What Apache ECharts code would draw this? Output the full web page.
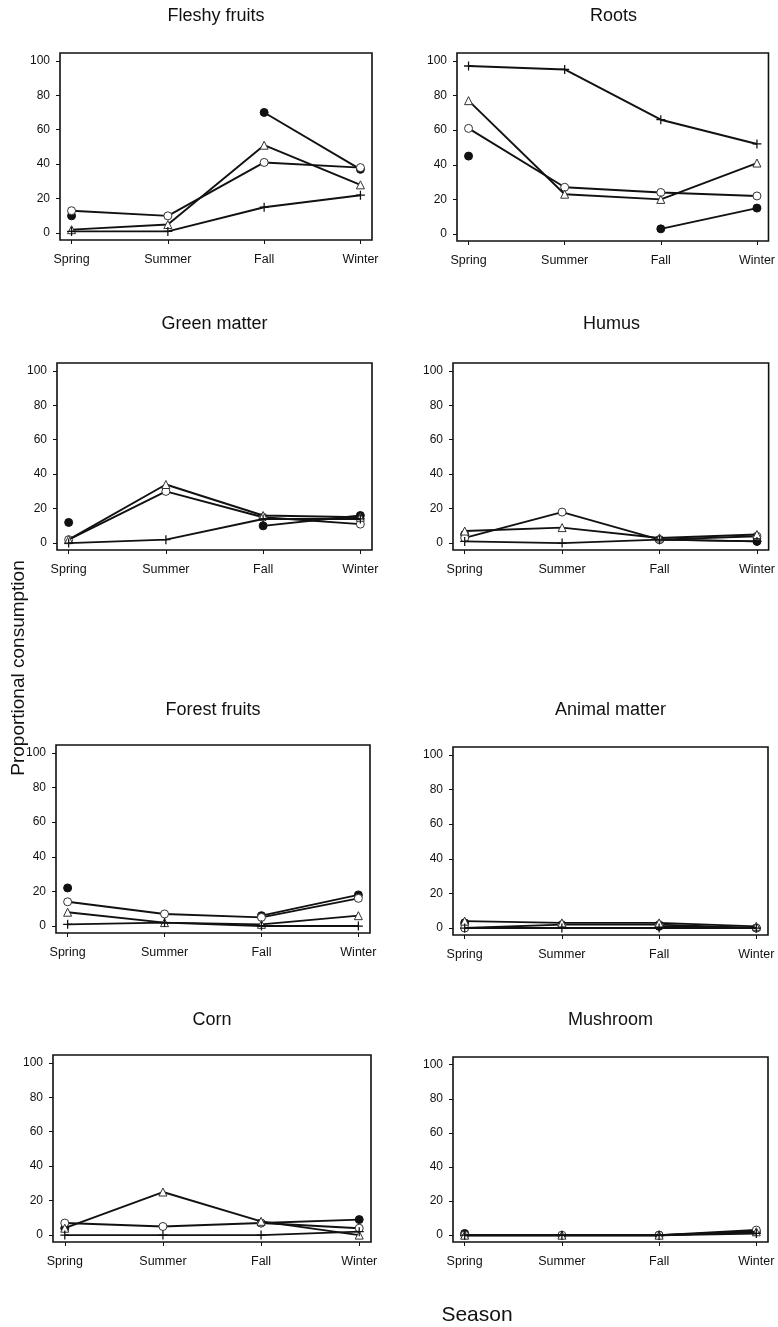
<!DOCTYPE html>
<html>
<head>
<meta charset="utf-8">
<script src="https://cdn.jsdelivr.net/npm/echarts@6/dist/echarts.min.js"></script>
<style>
html,body{margin:0;padding:0;background:#fff;}
#chart{width:778px;height:1327px;}
</style>
</head>
<body>
<div id="chart"></div>
<script>
// ---- data ----
const seasons = ['Spring', 'Summer', 'Fall', 'Winter'];
const yTicks = [0, 20, 40, 60, 80, 100];
const panelTitles = ['Fleshy fruits', 'Roots', 'Green matter', 'Humus',
                     'Forest fruits', 'Animal matter', 'Corn', 'Mushroom'];
// each panel: [filled circle, open circle, open triangle, plus]
const fleshyFruits = [[10, null, 70, 37], [13, 10, 41, 38], [2, 5, 51, 28], [1, 1, 15, 22]];
const roots        = [[45, null, 3, 15], [61, 27, 24, 22], [77, 23, 20, 41], [97, 95, 66, 52]];
const greenMatter  = [[12, null, 10, 16], [2, 30, 15, 11], [2, 34, 16, 15], [0, 2, 14, 14]];
const humus        = [[5, null, 2, 1], [3, 18, 2, 4], [7, 9, 3, 5], [1, 0, 2, 1]];
const forestFruits = [[22, null, 6, 18], [14, 7, 5, 16], [8, 2, 1, 6], [1, 2, 0, 0]];
const animalMatter = [[3, null, 1, 0], [0, 2, 2, 0], [4, 3, 3, 1], [0, 0, 0, 0]];
const corn         = [[4, null, 7, 9], [7, 5, 7, 4], [4, 25, 8, 0], [0, 0, 0, 2]];
const mushroom     = [[1, null, 0, 2], [0, 0, 0, 3], [0, 0, 0, 2], [0, 0, 0, 1]];
const panelData = [fleshyFruits, roots, greenMatter, humus, forestFruits, animalMatter, corn, mushroom];

// ---- layout / style ----
const FONT = "'Liberation Sans', Arial, sans-serif";
const INK = '#111';
const grids = [
  {left: 60,  top: 53,   width: 312, height: 187},
  {left: 457, top: 53,   width: 313, height: 188},
  {left: 57,  top: 363,  width: 315, height: 187},
  {left: 453, top: 363,  width: 317, height: 187},
  {left: 56,  top: 745,  width: 314, height: 188},
  {left: 453, top: 747,  width: 315, height: 188},
  {left: 53,  top: 1055, width: 318, height: 187},
  {left: 453, top: 1057, width: 315, height: 185}
];
const titleY = [16, 16, 324, 324, 710, 710, 1020, 1020];
const plusPath = 'path://M4.3,0 L5.7,0 L5.7,4.3 L10,4.3 L10,5.7 L5.7,5.7 L5.7,10 L4.3,10 L4.3,5.7 L0,5.7 L0,4.3 L4.3,4.3 Z';
const markerStyles = [
  {symbol: 'circle', symbolSize: 8, itemStyle: {color: INK, borderColor: INK, borderWidth: 1}},
  {symbol: 'circle', symbolSize: 8, itemStyle: {color: '#fff', borderColor: '#333', borderWidth: 1}},
  {symbol: 'triangle', symbolSize: 8, itemStyle: {color: '#fff', borderColor: '#333', borderWidth: 1}},
  {symbol: plusPath, symbolSize: 9, itemStyle: {color: INK, borderWidth: 0}}
];

const option = {
  animation: false,
  backgroundColor: '#fff',
  grid: grids.map(g => ({left: g.left, top: g.top, width: g.width, height: g.height,
    show: true, borderColor: INK, borderWidth: 1.6, backgroundColor: 'transparent'})),
  xAxis: grids.map((g, i) => ({
    type: 'value', gridIndex: i, min: -0.12, max: 3.12,
    splitLine: {show: false},
    axisLine: {show: false, onZero: false},
    axisTick: {show: true, customValues: [0, 1, 2, 3], length: 4, lineStyle: {color: INK, width: 1}},
    axisLabel: {show: true, customValues: [0, 1, 2, 3], formatter: v => seasons[Math.round(v)],
      fontFamily: FONT, fontSize: 12.5, color: INK, margin: 13}
  })),
  yAxis: grids.map((g, i) => ({
    type: 'value', gridIndex: i, min: -4, max: 104.5,
    splitLine: {show: false},
    axisLine: {show: false, onZero: false},
    axisTick: {show: true, customValues: yTicks, length: 4, lineStyle: {color: INK, width: 1}},
    axisLabel: {show: true, customValues: yTicks, fontFamily: FONT, fontSize: 12, color: INK, margin: 10}
  })),
  series: [],
  graphic: []
};

panelData.forEach((panel, p) => {
  panel.forEach((vals, k) => {
    const ms = markerStyles[k];
    option.series.push({
      type: 'line', xAxisIndex: p, yAxisIndex: p,
      data: vals.map((v, i) => [i, v]),
      connectNulls: false,
      symbol: ms.symbol, symbolSize: ms.symbolSize, showAllSymbol: true,
      itemStyle: ms.itemStyle,
      lineStyle: {color: INK, width: 1.9},
      z: 2 + k
    });
  });
  const g = grids[p];
  option.graphic.push({
    type: 'text', x: g.left + g.width / 2, y: titleY[p],
    style: {text: panelTitles[p], font: '18px ' + FONT, fill: INK,
      align: 'center', verticalAlign: 'middle', textAlign: 'center', textVerticalAlign: 'middle'}
  });
});

option.graphic.push({
  type: 'text', x: 19, y: 668, rotation: Math.PI / 2,
  style: {text: 'Proportional consumption', font: '19px ' + FONT, fill: INK,
    align: 'center', verticalAlign: 'middle', textAlign: 'center', textVerticalAlign: 'middle'}
});
option.graphic.push({
  type: 'text', x: 477, y: 1315,
  style: {text: 'Season', font: '21px ' + FONT, fill: INK,
    align: 'center', verticalAlign: 'middle', textAlign: 'center', textVerticalAlign: 'middle'}
});

const chart = echarts.init(document.getElementById('chart'), null, {renderer: 'canvas'});
chart.setOption(option);
</script>
</body>
</html>
